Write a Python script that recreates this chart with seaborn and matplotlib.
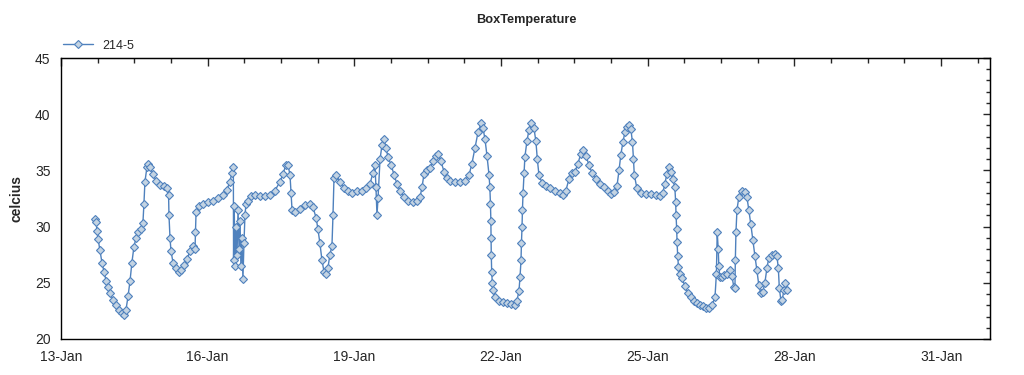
import pandas as pd
import numpy as np
import matplotlib
matplotlib.use("Agg")
import matplotlib.pyplot as plt
import matplotlib.dates as mdates
from matplotlib.ticker import MultipleLocator, FixedLocator
import seaborn as sns

# hours after 13-Jan 00:00 and box temperature (celcius)
hours = [16.7, 17.2, 17.7, 18.2, 19.1, 20.1, 21.1, 22.1, 23.1, 24.0, 25.5, 27.0, 28.5, 29.9, 30.9,
         31.9, 32.9, 33.9, 34.8, 35.8, 36.8, 37.8, 39.3, 40.2, 40.7, 41.2, 42.2, 42.9, 43.7, 45.1,
         46.6, 48.6, 50.6, 52.0, 52.8, 53.0, 53.5, 54.0, 55.0, 56.4, 57.9, 58.9, 60.4, 61.8, 63.3,
         64.8, 65.8, 66.0, 66.3, 67.7, 69.7, 72.1, 74.6, 77.1, 79.5, 81.5, 82.9, 83.9, 84.6, 84.7,
         85.0, 85.5, 85.9, 86.4, 86.9, 87.4, 87.9, 88.3, 88.8, 89.3, 89.8, 90.3, 90.8, 91.8, 93.2,
         95.2, 97.7, 100.1, 102.6, 105.0, 107.5, 109.0, 110.4, 111.4, 112.4, 112.9, 113.4, 114.8, 117.3, 119.8,
         122.2, 123.7, 125.2, 126.1, 127.1, 128.1, 129.1, 130.0, 131.0, 132.0, 133.0, 133.5, 134.0, 134.9, 136.9,
         138.9, 140.9, 142.8, 145.3, 147.7, 149.7, 151.7, 153.1, 154.1, 154.6, 155.1, 155.6, 156.6, 157.6, 158.5,
         159.5, 160.5, 162.0, 163.5, 164.9, 166.4, 168.4, 170.3, 172.8, 174.7, 176.2, 177.2, 178.2, 179.6, 181.1,
         182.6, 184.1, 185.1, 186.5, 188.0, 189.5, 190.9, 193.4, 195.9, 198.3, 200.3, 201.7, 203.2, 204.7, 206.2,
         207.1, 208.1, 209.1, 210.1, 210.5, 210.8, 211.0, 211.1, 211.2, 211.4, 211.7, 212.1, 213.0, 215.0, 216.9,
         218.9, 220.9, 222.8, 223.8, 224.8, 225.3, 225.8, 226.0, 226.3, 226.5, 226.8, 227.3, 227.7, 228.7, 229.7,
         230.9, 232.1, 233.1, 233.8, 234.6, 236.1, 238.0, 240.0, 242.4, 244.9, 246.4, 247.8, 249.3, 250.8, 252.3,
         253.7, 255.2, 256.2, 257.7, 259.1, 260.6, 262.6, 264.5, 266.5, 268.5, 269.9, 271.4, 272.9, 273.9, 274.8,
         275.8, 276.8, 277.8, 278.8, 279.7, 280.5, 281.0, 281.4, 282.7, 284.6, 287.1, 289.5, 292.0, 294.0, 295.4,
         296.4, 297.4, 298.4, 299.3, 300.3, 301.3, 301.7, 301.9, 302.2, 302.4, 302.7, 303.1, 303.8, 304.8, 306.3,
         307.7, 309.2, 310.7, 312.2, 313.6, 315.1, 316.6, 318.0, 319.5, 321.0, 321.7, 322.1, 322.6, 322.9, 323.4,
         324.4, 325.4, 326.9, 328.4, 329.3, 330.3, 330.8, 331.0, 331.3, 331.8, 332.7, 334.2, 335.7, 336.7, 337.6,
         338.6, 339.6, 340.6, 341.6, 342.5, 343.5, 344.5, 345.5, 346.5, 347.4, 348.9, 350.4, 351.4, 352.1, 352.6,
         353.4, 354.1, 354.8, 355.6, 356.3]
temps = [30.7, 30.4, 29.6, 28.9, 27.9, 26.8, 26.0, 25.2, 24.6, 24.1, 23.5, 23.0, 22.6, 22.3, 22.1,
         22.6, 23.8, 25.2, 26.8, 28.2, 29.0, 29.5, 29.8, 30.3, 32.0, 34.0, 35.3, 35.6, 35.3, 34.7,
         34.1, 33.7, 33.6, 33.4, 32.8, 31.0, 29.0, 27.8, 26.8, 26.3, 26.0, 26.1, 26.6, 27.1, 27.8,
         28.3, 28.0, 29.5, 31.3, 31.8, 32.0, 32.2, 32.3, 32.5, 32.8, 33.3, 34.0, 34.8, 35.3, 27.0,
         31.8, 26.5, 30.0, 27.5, 31.5, 28.0, 30.5, 26.5, 29.0, 25.3, 28.5, 31.0, 32.0, 32.3, 32.7,
         32.8, 32.7, 32.7, 32.8, 33.2, 34.0, 34.7, 35.5, 35.5, 34.6, 33.0, 31.5, 31.3, 31.6, 31.9,
         32.0, 31.7, 30.8, 29.8, 28.5, 27.0, 26.0, 25.8, 26.3, 27.5, 28.3, 31.0, 34.3, 34.6, 34.0,
         33.4, 33.2, 33.0, 33.2, 33.2, 33.4, 33.8, 34.8, 35.5, 33.5, 31.0, 32.5, 36.0, 37.3, 37.8,
         37.0, 36.2, 35.5, 34.6, 33.8, 33.2, 32.6, 32.3, 32.2, 32.3, 32.6, 33.5, 34.7, 35.0, 35.2,
         35.8, 36.3, 36.5, 35.8, 34.9, 34.3, 34.1, 34.0, 34.0, 34.1, 34.6, 35.6, 37.0, 38.4, 39.2,
         38.8, 37.8, 36.3, 34.6, 33.5, 32.0, 30.5, 29.0, 27.5, 26.0, 25.0, 24.4, 23.7, 23.4, 23.3,
         23.2, 23.1, 23.0, 23.4, 24.3, 25.5, 27.0, 28.5, 30.0, 31.5, 33.0, 34.8, 36.2, 37.6, 38.6,
         39.2, 38.8, 37.6, 36.0, 34.6, 33.9, 33.6, 33.4, 33.2, 33.0, 32.8, 33.2, 34.2, 34.8, 34.9,
         35.6, 36.5, 36.8, 36.3, 35.5, 34.8, 34.2, 33.8, 33.5, 33.2, 32.9, 33.1, 33.6, 35.0, 36.4,
         37.5, 38.4, 38.9, 39.0, 38.7, 37.5, 36.0, 34.6, 33.4, 33.0, 32.9, 32.9, 32.8, 32.7, 33.0,
         33.8, 34.7, 35.3, 34.9, 34.2, 33.5, 32.2, 31.0, 29.8, 28.6, 27.4, 26.4, 25.8, 25.4, 24.7,
         24.1, 23.7, 23.4, 23.2, 23.0, 22.9, 22.8, 22.8, 23.0, 23.7, 25.8, 29.5, 28.0, 26.5, 25.5,
         25.5, 25.7, 25.8, 26.1, 25.6, 24.6, 24.5, 27.0, 29.5, 31.5, 32.6, 33.2, 33.1, 32.6, 31.5,
         30.2, 28.8, 27.4, 26.1, 24.8, 24.1, 24.2, 25.0, 26.3, 27.2, 27.5, 27.6, 27.4, 26.3, 24.5,
         23.4, 23.5, 24.4, 25.0, 24.4]

start = pd.Timestamp("2014-01-13")
df = pd.DataFrame({"time": start + pd.to_timedelta(hours, unit="h"), "celcius": temps})

sns.set_style("white")
plt.rcParams["font.family"] = ["Liberation Sans", "DejaVu Sans"]

fig = plt.figure(figsize=(10.24, 3.75), dpi=100)
ax = fig.add_axes([61 / 1024, 1 - 339 / 375, (990 - 61) / 1024, (339 - 58) / 375])

sns.lineplot(data=df, x="time", y="celcius", ax=ax, estimator=None, sort=False,
             color="#4f81bd", linewidth=1, marker="D", markersize=4.2,
             markerfacecolor="#c3d3e2", markeredgecolor="#4f81bd", markeredgewidth=0.8,
             label="214-5")

ax.set_xlim(start, start + pd.Timedelta(days=19))
ax.set_ylim(20, 45)
major_x = mdates.date2num(pd.date_range(start, periods=7, freq="3D"))
minor_x = mdates.date2num(pd.date_range(start, periods=26, freq="18h"))
ax.xaxis.set_major_locator(FixedLocator(major_x))
ax.xaxis.set_minor_locator(FixedLocator(minor_x))
ax.xaxis.set_major_formatter(mdates.DateFormatter("%d-%b"))
ax.yaxis.set_major_locator(MultipleLocator(5))
ax.yaxis.set_minor_locator(MultipleLocator(1))

ax.tick_params(which="both", labelsize=10, color="black", width=1)
ax.tick_params(axis="x", which="major", direction="inout", length=10, pad=3)
ax.tick_params(axis="x", which="minor", direction="inout", length=4)
ax.tick_params(axis="y", which="major", direction="inout", length=9, pad=3)
ax.tick_params(axis="y", which="minor", direction="in", length=4)
for sp in ax.spines.values():
    sp.set_color("black")
    sp.set_linewidth(1)

# inward ticks on top and right sides
top = ax.secondary_xaxis("top")
top.xaxis.set_major_locator(FixedLocator(major_x))
top.xaxis.set_minor_locator(FixedLocator(minor_x))
top.tick_params(which="major", direction="in", length=6, width=1, labeltop=False)
top.tick_params(which="minor", direction="in", length=3.5, width=1)
right = ax.secondary_yaxis("right")
right.yaxis.set_major_locator(MultipleLocator(5))
right.yaxis.set_minor_locator(MultipleLocator(1))
right.tick_params(which="major", direction="in", length=5, width=1, labelright=False)
right.tick_params(which="minor", direction="in", length=3, width=1)

ax.set_xlabel("")
ax.set_ylabel("celcius", fontsize=10, fontweight="bold", labelpad=8)
fig.suptitle("BoxTemperature", fontsize=9.2, fontweight="bold", x=0.514, y=0.962)
ax.legend(loc="lower left", bbox_to_anchor=(-0.005, 1.0), frameon=False, fontsize=9,
          handlelength=2.4, borderaxespad=0.1)

fig.savefig("out.png", dpi=100)
